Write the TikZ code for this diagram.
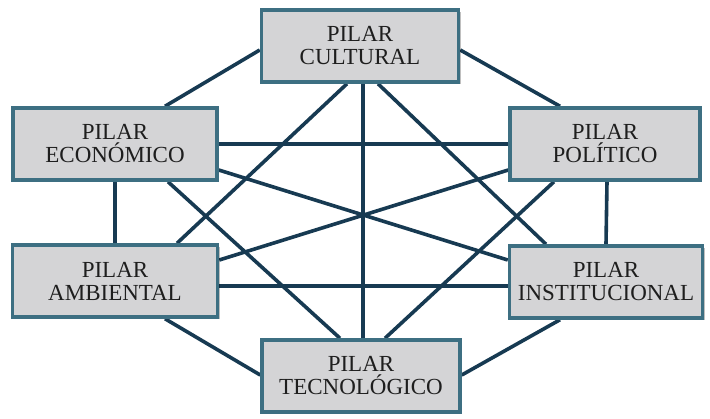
\documentclass[tikz,border=0pt]{standalone}
\usepackage{fontspec}
\setmainfont{Liberation Serif}
\usetikzlibrary{shadows,backgrounds}
\definecolor{pilarborde}{HTML}{3D6F82}
\definecolor{pilarfondo}{HTML}{D4D4D6}
\definecolor{pilartexto}{HTML}{1E1E1E}
\definecolor{enlacecolor}{HTML}{173A52}
\tikzset{
  pilar/.style={draw=pilarborde, fill=pilarfondo, line width=3.5pt, minimum height=72pt,
    align=center, text=pilartexto, font=\fontsize{23}{23}\selectfont,
    drop shadow={shadow xshift=2pt, shadow yshift=-2pt, fill=black, opacity=.25}},
  enlace/.style={draw=enlacecolor, line width=3.6pt}
}
\begin{document}
\begin{tikzpicture}[x=1pt, y=-1pt]
\useasboundingbox (0,0) rectangle (710,418);
\node[pilar, minimum width=197pt] (cul) at (360, 46) {PILAR\\CULTURAL};
\node[pilar, minimum width=204pt] (eco) at (115, 144) {PILAR\\ECONÓMICO};
\node[pilar, minimum width=190pt] (pol) at (605, 144) {PILAR\\POLÍTICO};
\node[pilar, minimum width=205pt] (amb) at (115, 281) {PILAR\\AMBIENTAL};
\node[pilar, minimum width=193pt] (ins) at (606, 282) {PILAR\\INSTITUCIONAL};
\node[pilar, minimum width=198pt] (tec) at (361, 376) {PILAR\\TECNOLÓGICO};
\begin{scope}[on background layer]
% cultural
\draw[enlace] ([yshift=-4pt]cul.west) -- ([xshift=50pt]eco.north);
\draw[enlace] ([yshift=-4pt]cul.east) -- ([xshift=-45pt]pol.north);
\draw[enlace] ([xshift=3pt]cul.south) -- ([xshift=2pt]tec.north);
\draw[enlace] ([xshift=-13pt]cul.south) -- ([xshift=62pt]amb.north);
\draw[enlace] ([xshift=18pt]cul.south) -- ([xshift=-60pt]ins.north);
% economico
\draw[enlace] (eco.east) -- (pol.west);
\draw[enlace] (eco.south) -- (amb.north);
\draw[enlace] ([yshift=-26pt]eco.east) -- ([yshift=22pt]ins.west);
\draw[enlace] ([xshift=53pt]eco.south) -- ([xshift=-21pt]tec.north);
% politico
\draw[enlace] ([yshift=-26pt]pol.west) -- ([yshift=21pt]amb.east);
\draw[enlace] ([xshift=2pt]pol.south) -- (ins.north);
\draw[enlace] ([xshift=-51pt]pol.south) -- ([xshift=24pt]tec.north);
% ambiental, institucional
\draw[enlace] ([yshift=-5pt]amb.east) -- ([yshift=-4pt]ins.west);
\draw[enlace] ([xshift=50pt]amb.south) -- ([yshift=1pt]tec.west);
\draw[enlace] ([xshift=-46pt]ins.south) -- ([yshift=1pt]tec.east);
\end{scope}
\end{tikzpicture}
\end{document}
